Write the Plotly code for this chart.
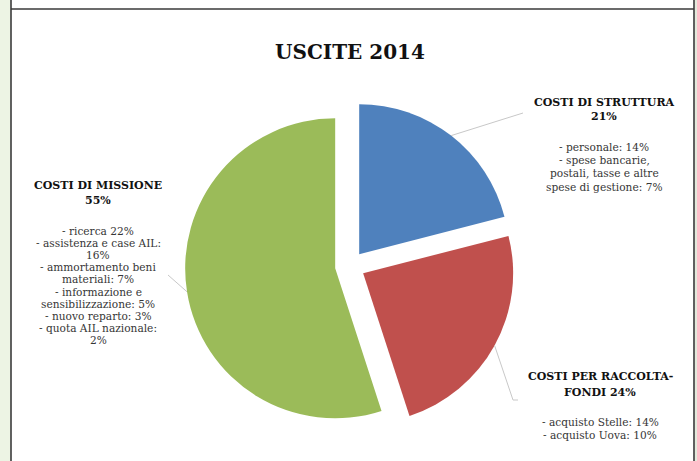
import math
import plotly.graph_objects as go

# ---- data ----
categories = ["COSTI DI STRUTTURA", "COSTI PER RACCOLTA-FONDI", "COSTI DI MISSIONE"]
values = [21, 24, 55]
colors = ["#4F81BD", "#C0504D", "#9BBB59"]
headers = [["COSTI DI STRUTTURA", "21%"],
           ["COSTI PER RACCOLTA-", "FONDI 24%"],
           ["COSTI DI MISSIONE", "55%"]]
details = [
    ["- personale: 14%", "- spese bancarie,", "postali, tasse e altre", "spese di gestione: 7%"],
    ["- acquisto Stelle: 14%", "- acquisto Uova: 10%"],
    ["- ricerca 22%", "- assistenza e case AIL:", "16%", "- ammortamento beni",
     "materiali: 7%", "- informazione e", "sensibilizzazione: 5%",
     "- nuovo reparto: 3%", "- quota AIL nazionale:", "2%"],
]
title_text = "USCITE 2014"

# ---- layout geometry (pixels) ----
W, H = 697, 461
CX, CY, R = 350, 266, 150
PULL = 0.1
ext = R * (1 + PULL)

def px(x):
    return x / W

def py(y):
    return 1 - y / H

# label blocks: centre x, first header line y, header spacing, first detail y, detail spacing
label_pos = [(604, 102, 14.5, 147, 13.2),
             (600, 376, 16, 422, 13),
             (98, 185, 15.5, 231, 12.1)]
# leader line end points (pixels)
leader_ends = [[(523, 113)], [(513, 400), (518, 400)], [(168, 275)]]

fig = go.Figure()
fig.add_trace(go.Pie(
    labels=categories, values=values, sort=False, direction="clockwise",
    rotation=0, pull=[PULL] * len(values),
    marker=dict(colors=colors, line=dict(width=0)),
    textinfo="none", hoverinfo="none", showlegend=False,
    domain=dict(x=[px(CX - ext), px(CX + ext)], y=[py(CY + ext), py(CY - ext)]),
))

shapes = []
# frame decoration
shapes.append(dict(type="rect", xref="paper", yref="paper", x0=0, x1=px(10.5), y0=0, y1=1,
                   fillcolor="#EDF4E4", line=dict(width=0), layer="below"))
shapes.append(dict(type="rect", xref="paper", yref="paper", x0=px(694.5), x1=1, y0=0, y1=1,
                   fillcolor="#E4EADC", line=dict(width=0), layer="below"))
for x0, y0, x1, y1 in [(11, 0, 11, H), (694, 0, 694, H), (11, 9, 694, 9)]:
    shapes.append(dict(type="line", xref="paper", yref="paper",
                       x0=px(x0), x1=px(x1), y0=py(y0), y1=py(y1),
                       line=dict(color="#3A3A3A", width=1.6)))

# leader lines from slice mid-angles
total = sum(values)
cum = 0
for i, v in enumerate(values):
    mid = (cum + v / 2) / total * 2 * math.pi
    cum += v
    ux, uy = math.sin(mid), -math.cos(mid)
    sx = CX + PULL * R * ux + R * ux
    sy = CY + PULL * R * uy + R * uy
    pts = [(sx, sy)] + leader_ends[i]
    for (a, b), (c, d) in zip(pts[:-1], pts[1:]):
        shapes.append(dict(type="line", xref="paper", yref="paper",
                           x0=px(a), y0=py(b), x1=px(c), y1=py(d),
                           line=dict(color="#C8C8C8", width=1)))

annotations = []
for i in range(len(values)):
    x, yh, dh, yd, dd = label_pos[i]
    for k, line in enumerate(headers[i]):
        annotations.append(dict(x=px(x), y=py(yh + k * dh), xref="paper", yref="paper",
                                text="<b>" + line + "</b>", showarrow=False, borderpad=0,
                                xanchor="center", yanchor="middle", align="center",
                                font=dict(family="DejaVu Serif", size=11, color="#111111")))
    for k, line in enumerate(details[i]):
        annotations.append(dict(x=px(x), y=py(yd + k * dd), xref="paper", yref="paper",
                                text=line, showarrow=False, borderpad=0,
                                xanchor="center", yanchor="middle", align="center",
                                font=dict(family="DejaVu Serif", size=10.6, color="#363636")))

annotations.append(dict(x=px(350), y=py(51.5), xref="paper", yref="paper",
                        text="<b>" + title_text + "</b>", showarrow=False,
                        xanchor="center", yanchor="middle",
                        font=dict(family="DejaVu Serif", size=20, color="#111111")))

fig.update_layout(width=W, height=H, margin=dict(l=0, r=0, t=0, b=0),
                  paper_bgcolor="white", plot_bgcolor="white",
                  shapes=shapes, annotations=annotations, showlegend=False)
fig.write_html("out.html", config={"displayModeBar": False},
               post_script="document.body.style.margin='0px';")
